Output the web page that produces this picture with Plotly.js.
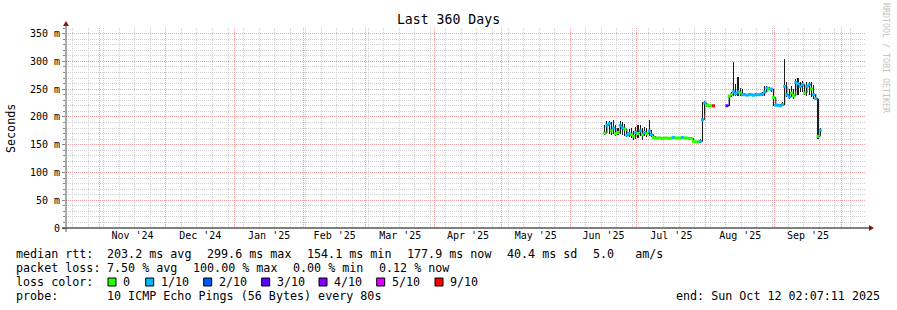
<!DOCTYPE html>
<html>
<head>
<meta charset="utf-8">
<script src="https://cdn.plot.ly/plotly-3.0.1.min.js"></script>
<style>html,body{margin:0;padding:0;background:#fff;}</style>
</head>
<body>
<div id="chart" style="width:897px;height:310px;"></div>
<script>
// ---- data (daily consolidated smokeping values, ms) ----
const firstDay = '2025-06-16';
const medianMs = [
  171,185,188,175,180,170,172,185,180,178,167,170,168,165,172,
  170,175,168,172,170,175,168,163,162,162,162,161,162,162,161,162,163,162,162,162,163,162,162,161,161,156,155,155,156,195,225,
  221,220,220,220,null,null,null,null,null,220,237,240,245,242,245,243,240,240,239,240,240,239,240,240,240,241,245,252,250,250,235,
  221,221,220,222,255,240,236,243,238,262,260,255,258,243,255,258,250,240,233,165,176
];
const smokeLowMs = [
  168,172,170,168,170,166,168,170,168,165,163,163,162,158,160,
  162,165,158,165,163,165,163,160,160,160,160,159,160,160,159,160,160,160,160,160,160,160,160,159,158,154,153,153,153,157,205,
  218,218,218,218,null,null,null,null,null,218,220,236,238,238,238,238,237,238,237,238,238,237,238,238,238,238,238,245,248,245,219,
  219,219,218,219,222,235,232,237,233,245,240,245,245,240,238,240,236,232,230,160,168
];
const smokeHighMs = [
  185,192,193,190,195,185,180,192,190,187,175,178,180,175,182,
  185,186,180,182,180,195,176,167,165,164,164,164,164,164,163,164,165,164,164,164,165,164,164,163,163,158,157,157,160,226,228,
  224,222,222,222,null,null,null,null,null,222,240,245,298,260,272,252,250,243,242,243,242,242,243,242,243,244,255,256,254,252,251,
  224,223,223,226,305,262,250,255,250,268,270,262,265,258,262,262,262,258,240,233,180
];
const lossTenths = [
  0,1,1,0,1,0,0,1,1,0,1,1,0,0,1,
  0,1,0,1,0,1,1,0,0,0,0,0,0,0,0,0,1,0,0,0,1,0,0,0,0,0,0,0,1,1,1,
  0,0,0,9,null,null,null,null,null,3,0,0,1,1,1,0,1,1,1,1,1,1,1,1,1,1,1,1,0,1,0,
  1,1,1,1,1,1,1,0,0,1,1,1,1,0,1,1,0,1,1,0,1
];
const lossLevels = [0, 1, 2, 3, 4, 5, 9];
const lossLabels = ['0', '1/10', '2/10', '3/10', '4/10', '5/10', '9/10'];
const lossColors = ['#26ff00', '#00b8ff', '#0059ff', '#5e00ff', '#7e00ff', '#dd00ff', '#ff0000'];
const yTickVals = [0, 50, 100, 150, 200, 250, 300, 350];
const yTickText = ['0', '50 m', '100 m', '150 m', '200 m', '250 m', '300 m', '350 m'];
const rangeStart = '2024-10-17 02:07:11';
const rangeEnd = '2025-10-12 02:07:11';
const statsRtt = [['median rtt:', 16], ['203.2 ms avg', 107.3], ['299.6 ms max', 207.3], ['154.1 ms min', 307.3], ['177.9 ms now', 407.3], ['40.4 ms sd', 506.7], ['5.0   am/s', 592.7]];
const statsLoss = [['packet loss:', 16], ['7.50 % avg', 107.3], ['100.00 % max', 193.3], ['0.00 % min', 293.3], ['0.12 % now', 379]];
const legendBoxX = [108, 145.7, 203.7, 261.7, 319, 376.7, 435];

// ---- build ----
const dayMs = 86400000;
const t0 = new Date(firstDay + 'T12:00:00Z').getTime();
function iso(t){ return new Date(t).toISOString().replace('T',' ').slice(0,19); }
const days = medianMs.map((_, i) => iso(t0 + i * dayMs));
const smokeBase = smokeLowMs, smokeSpan = smokeHighMs.map((h, i) => h == null ? null : h - smokeLowMs[i]);
const medColors = lossTenths.map(l => l == null ? 'rgba(0,0,0,0)' : lossColors[lossLevels.indexOf(l)]);

const L = 66, R = 31, T = 28, B = 82, W = 897, H = 310;
const pw = W - L - R, ph = H - T - B;
const px = p => (p - L) / pw;
const py = p => (H - B - p) / ph;
const nb = s => s.replace(/ /g, '\u00A0');
const MONO = 'DejaVu Sans Mono';

const traces = [
  { type: 'bar', x: days, y: smokeSpan, base: smokeBase, width: dayMs * 0.5,
    marker: { color: '#1c1c1c', line: { width: 0 } }, hoverinfo: 'skip', showlegend: false },
  { type: 'scatter', mode: 'lines', x: days, y: medianMs, connectgaps: false,
    line: { color: '#1c1c1c', width: 1, shape: 'hv' }, hoverinfo: 'skip', showlegend: false },
  { type: 'scatter', mode: 'markers', x: days, y: medianMs,
    marker: { symbol: 'square', size: 3, color: medColors, line: { width: 0 } },
    hoverinfo: 'skip', showlegend: false }
];

const annotations = [];
const shapes = [];
function txt(s, x, y, opts) {
  annotations.push(Object.assign({ xref: 'paper', yref: 'paper', x: px(x), y: py(y), text: nb(s),
    showarrow: false, xanchor: 'left', yanchor: 'middle', borderpad: 0, borderwidth: 0,
    font: { family: MONO, size: 11.7, color: '#000' } }, opts || {}));
}
statsRtt.forEach(([s, x]) => txt(s, x, 254.3));
statsLoss.forEach(([s, x]) => txt(s, x, 268.3));
txt('loss color:', 16, 282.3);
lossLabels.forEach((lab, i) => {
  shapes.push({ type: 'rect', xref: 'paper', yref: 'paper', x0: px(legendBoxX[i]), x1: px(legendBoxX[i] + 8),
    y0: py(286), y1: py(278), fillcolor: lossColors[i], line: { color: '#000', width: 1 } });
  txt(lab, legendBoxX[i] + 15, 282.3);
});
txt('probe:', 16, 296.3);
txt('10 ICMP Echo Pings (56 Bytes) every 80s', 107.3, 296.3);
txt('end: Sun Oct 12 02:07:11 2025', 880, 296.3, { xanchor: 'right' });
txt('Seconds', 11, 128, { xanchor: 'center', textangle: -90 });
txt('RRDTOOL / TOBI OETIKER', 886, 58, { xanchor: 'center', textangle: 90, font: { family: MONO, size: 8.3, color: '#c4c4c4' } });

// axis lines + arrows
shapes.push({ type: 'line', xref: 'paper', yref: 'paper', x0: px(62), x1: px(870), y0: py(228), y1: py(228), line: { color: '#000', width: 1 } });
shapes.push({ type: 'line', xref: 'paper', yref: 'paper', x0: px(66), x1: px(66), y0: py(232), y1: py(24), line: { color: '#555', width: 1 } });
shapes.push({ type: 'path', xref: 'paper', yref: 'paper',
  path: `M ${px(869)} ${py(225)} L ${px(874)} ${py(228)} L ${px(869)} ${py(231)} Z`, fillcolor: '#8b1414', line: { width: 0 } });
shapes.push({ type: 'path', xref: 'paper', yref: 'paper',
  path: `M ${px(63)} ${py(26)} L ${px(66)} ${py(21)} L ${px(69)} ${py(26)} Z`, fillcolor: '#8b1414', line: { width: 0 } });

const layout = {
  width: W, height: H,
  margin: { l: L, r: R, t: T, b: B, pad: 0 },
  paper_bgcolor: '#fff', plot_bgcolor: '#fff',
  title: { text: 'Last 360 Days', x: 0.5, xref: 'container', y: 1 - 19 / H, yref: 'container', yanchor: 'middle',
    font: { family: MONO, size: 13.2, color: '#000' } },
  bargap: 0, showlegend: false,
  xaxis: {
    type: 'date', range: [rangeStart, rangeEnd], fixedrange: true,
    tick0: '2024-11-01', dtick: 'M1', ticklabelmode: 'period', tickformat: "%b '%y",
    ticks: '', showline: false, zeroline: false,
    showgrid: true, gridcolor: '#f2a0a0', griddash: '1px,1px', gridwidth: 1,
    tickfont: { family: MONO, size: 10, color: '#000' },
    minor: { tick0: '2024-10-20', dtick: 7 * dayMs, showgrid: true, gridcolor: '#cfcfcf', griddash: '1px,1px', gridwidth: 1 }
  },
  yaxis: {
    range: [0, 360], fixedrange: true, tickvals: yTickVals, ticktext: yTickText,
    ticks: 'outside', ticklen: 3, tickcolor: '#888', showline: false, zeroline: false,
    showgrid: true, gridcolor: '#f2a0a0', griddash: '1px,1px', gridwidth: 1,
    tickfont: { family: MONO, size: 10, color: '#000' },
    minor: { dtick: 10, tick0: 0, showgrid: true, gridcolor: '#cfcfcf', griddash: '1px,1px', gridwidth: 1, ticks: 'outside', ticklen: 2, tickcolor: '#888' }
  },
  annotations: annotations,
  shapes: shapes
};

Plotly.newPlot('chart', traces, layout, { displayModeBar: false, staticPlot: true });
</script>
</body>
</html>
